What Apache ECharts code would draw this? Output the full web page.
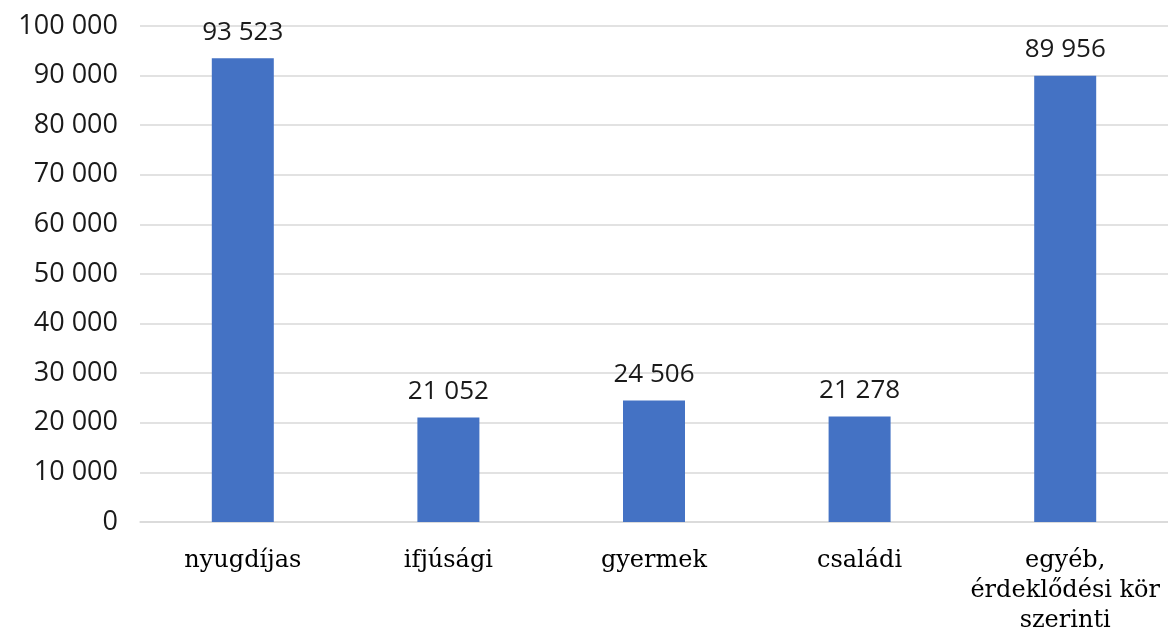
<!DOCTYPE html>
<html>
<head>
<meta charset="utf-8">
<script src="https://cdn.jsdelivr.net/npm/echarts@6/dist/echarts.min.js"></script>
<style>
  html, body { margin: 0; padding: 0; background: #fff; }
  #box { width: 1168px; height: 639px; }
</style>
</head>
<body>
<div id="box"></div>
<script>
var categories = ['nyugdíjas', 'ifjúsági', 'gyermek', 'családi', 'egyéb,\nérdeklődési kör\nszerinti'];
var values = [93523, 21052, 24506, 21278, 89956];

function fmt(v) {
    return String(v).replace(/\B(?=(\d{3})+(?!\d))/g, ' ');
}

var myChart = echarts.init(document.getElementById('box'));
var option = {
    animation: false,
    grid: {
        left: 140,
        top: 26,
        width: 1034,
        height: 496
    },
    xAxis: {
        type: 'category',
        data: categories,
        axisTick: { show: false },
        axisLine: { lineStyle: { color: '#d9d9d9', width: 1.5 } },
        axisLabel: {
            interval: 0,
            margin: 24,
            color: '#000',
            fontFamily: 'DejaVu Serif',
            fontSize: 24,
            lineHeight: 30
        }
    },
    yAxis: {
        type: 'value',
        min: 0,
        max: 100000,
        interval: 10000,
        axisLine: { show: false },
        axisTick: { show: false },
        splitLine: { lineStyle: { color: '#d9d9d9', width: 1.5 } },
        axisLabel: {
            margin: 22,
            color: '#1a1a1a',
            fontFamily: 'Open Sans',
            fontSize: 27,
            formatter: fmt
        }
    },
    series: [
        {
            type: 'bar',
            data: values,
            barWidth: 62,
            itemStyle: { color: '#4472C4' },
            label: {
                show: true,
                position: 'top',
                distance: 13,
                color: '#1a1a1a',
                fontFamily: 'Open Sans',
                fontSize: 26,
                formatter: function (p) { return fmt(p.value); }
            }
        }
    ]
};
myChart.setOption(option);
</script>
</body>
</html>
